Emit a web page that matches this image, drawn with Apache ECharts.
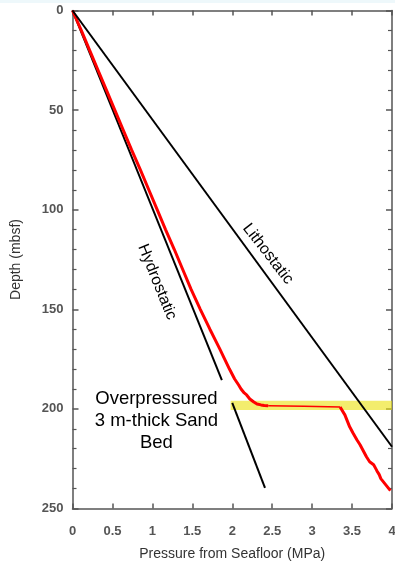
<!DOCTYPE html>
<html>
<head>
<meta charset="utf-8">
<script src="https://cdn.jsdelivr.net/npm/echarts@6/dist/echarts.min.js"></script>
<style>html,body{margin:0;padding:0;background:#fff}#c{width:395px;height:564px}</style>
</head>
<body>
<div id="c"></div>
<script>
// Axis ticks
const xTicks = [0, 0.5, 1, 1.5, 2, 2.5, 3, 3.5, 4];
const yTicks = [0, 50, 100, 150, 200, 250];

// Hydrostatic (two segments), lithostatic: [pressure MPa, depth mbsf]
const hydroUpperP = [0, 1.87];
const hydroUpperD = [0, 185.5];
const hydroLowerP = [2.0, 2.41];
const hydroLowerD = [197, 239.7];
const lithoP = [0, 4];
const lithoD = [0, 219];

// Measured pore pressure profile (red): above bed, across bed, below bed
const measUpperD = [0, 10, 20, 30, 40, 50, 60, 70, 80, 90, 100, 110, 120, 130, 140, 150, 160, 170, 175, 180, 185, 188, 190, 192, 193, 195, 196.5, 197.5, 198, 198.3, 198.4];
const measUpperP = [0, 0.11, 0.215, 0.32, 0.425, 0.53, 0.635, 0.74, 0.85, 0.955, 1.06, 1.165, 1.275, 1.38, 1.485, 1.60, 1.72, 1.845, 1.905, 1.965, 2.03, 2.08, 2.11, 2.15, 2.18, 2.22, 2.27, 2.31, 2.36, 2.40, 2.45];
const measBedD = [198.4, 198.7, 199];
const measBedP = [2.45, 2.9, 3.35];
const measLowerD = [199, 200, 203, 206, 209, 212, 215.5, 218, 221, 224, 226.5, 228, 228.8, 229.5, 231, 233, 235, 237, 239.5, 241];
const measLowerP = [3.35, 3.37, 3.41, 3.44, 3.47, 3.51, 3.56, 3.60, 3.64, 3.68, 3.72, 3.77, 3.755, 3.79, 3.81, 3.84, 3.86, 3.90, 3.95, 3.98];

// Overpressured sand bed band
const bandP = [1.98, 4];
const bandD = [195.9, 200.6];

const pairs = (p, d) => p.map((v, i) => [v, d[i]]);

const chart = echarts.init(document.getElementById('c'), null, {renderer: 'canvas'});
const FONT = 'Liberation Sans, Arial, sans-serif';
const axisCol = '#555';
const tickLabel = {fontFamily: FONT, fontSize: 13, fontWeight: 'bold', color: '#555'};

const option = {
  animation: false,
  backgroundColor: '#fff',
  grid: {left: 72.5, top: 10.5, right: 3, bottom: 55.5, containLabel: false, outerBoundsMode: 'none'},
  xAxis: [{
    type: 'value', min: xTicks[0], max: xTicks[xTicks.length - 1], interval: 0.5,
    position: 'bottom',
    name: 'Pressure from Seafloor (MPa)', nameLocation: 'middle', nameGap: 39,
    nameTextStyle: {fontFamily: FONT, fontSize: 14, color: '#333'},
    axisLine: {show: true, onZero: false, lineStyle: {color: axisCol, width: 1.5}},
    axisTick: {show: true, inside: true, length: 5, lineStyle: {color: axisCol, width: 1.5}},
    axisLabel: Object.assign({margin: 16, formatter: v => String(v)}, tickLabel),
    splitLine: {show: false}
  }, {
    type: 'value', min: xTicks[0], max: xTicks[xTicks.length - 1], interval: 0.5,
    position: 'top',
    axisLine: {show: true, onZero: false, lineStyle: {color: axisCol, width: 1.5}},
    axisTick: {show: true, inside: true, length: 5, lineStyle: {color: axisCol, width: 1.5}},
    axisLabel: {show: false},
    splitLine: {show: false}
  }],
  yAxis: [{
    type: 'value', inverse: true, min: yTicks[0], max: yTicks[yTicks.length - 1], interval: 50,
    position: 'left',
    name: 'Depth (mbsf)', nameLocation: 'middle', nameGap: 49, nameRotate: 90,
    nameTextStyle: {fontFamily: FONT, fontSize: 14, color: '#333'},
    axisLine: {show: true, onZero: false, lineStyle: {color: axisCol, width: 1.5}},
    axisTick: {show: true, inside: true, length: 6, lineStyle: {color: axisCol, width: 1.5}},
    minorTick: {show: true, splitNumber: 5, length: 4, lineStyle: {color: axisCol, width: 1.2}},
    axisLabel: Object.assign({margin: 9}, tickLabel),
    splitLine: {show: false}
  }, {
    type: 'value', inverse: true, min: yTicks[0], max: yTicks[yTicks.length - 1], interval: 50,
    position: 'right',
    axisLine: {show: true, onZero: false, lineStyle: {color: axisCol, width: 1.5}},
    axisTick: {show: true, inside: true, length: 6, lineStyle: {color: axisCol, width: 1.5}},
    minorTick: {show: true, splitNumber: 5, length: 4, lineStyle: {color: axisCol, width: 1.2}},
    axisLabel: {show: false},
    splitLine: {show: false}
  }],
  series: [
    {
      type: 'line', name: 'Hydrostatic', data: pairs(hydroUpperP, hydroUpperD), z: 4,
      showSymbol: false, lineStyle: {color: '#000', width: 2}
    },
    {
      type: 'line', name: 'Measured', data: pairs(measUpperP, measUpperD), z: 5,
      showSymbol: false, lineStyle: {color: '#ff0000', width: 3}
    },
    {
      type: 'line', name: 'MeasuredBed', data: pairs(measBedP, measBedD), z: 5,
      showSymbol: false, lineStyle: {color: '#ff0000', width: 1.5}
    },
    {
      type: 'line', name: 'MeasuredLower', data: pairs(measLowerP, measLowerD), z: 5,
      showSymbol: false, lineStyle: {color: '#ff0000', width: 3}
    },
    {
      type: 'line', name: 'Band', data: [], z: 6,
      markArea: {
        silent: true,
        itemStyle: {color: 'rgba(236,226,20,0.62)'},
        data: [[{coord: [bandP[0], bandD[0]]}, {coord: [bandP[1], bandD[1]]}]]
      }
    },
    {
      type: 'line', name: 'Hydrostatic2', data: pairs(hydroLowerP, hydroLowerD), z: 7,
      showSymbol: false, lineStyle: {color: '#000', width: 2}
    },
    {
      type: 'line', name: 'Lithostatic', data: pairs(lithoP, lithoD), z: 7,
      showSymbol: false, lineStyle: {color: '#000', width: 2}
    }
  ]
};
chart.setOption(option);

// Annotations placed from data coordinates
const px = (p, d) => chart.convertToPixel({xAxisIndex: 0, yAxisIndex: 0}, [p, d]);
const hPos = px(1.058, 136.3);
const lPos = px(2.447, 122.2);
const oPos = px(1.051, 206.1);
chart.setOption({
  graphic: [
    {type: 'rect', left: 0, top: 0, shape: {width: 395, height: 3}, style: {fill: '#eef8fb'}, z: 0},
    {type: 'text', x: hPos[0], y: hPos[1], rotation: -68 * Math.PI / 180,
      style: {text: 'Hydrostatic', font: '16px ' + FONT, fill: '#000', align: 'center', verticalAlign: 'middle'}, z: 10},
    {type: 'text', x: lPos[0], y: lPos[1], rotation: -52 * Math.PI / 180,
      style: {text: 'Lithostatic', font: '16px ' + FONT, fill: '#000', align: 'center', verticalAlign: 'middle'}, z: 10},
    {type: 'text', x: oPos[0], y: oPos[1],
      style: {text: 'Overpressured\n3 m-thick Sand\nBed', font: '18.5px ' + FONT, lineHeight: 22, fill: '#000', align: 'center', verticalAlign: 'middle'}, z: 10}
  ]
});
</script>
</body>
</html>
